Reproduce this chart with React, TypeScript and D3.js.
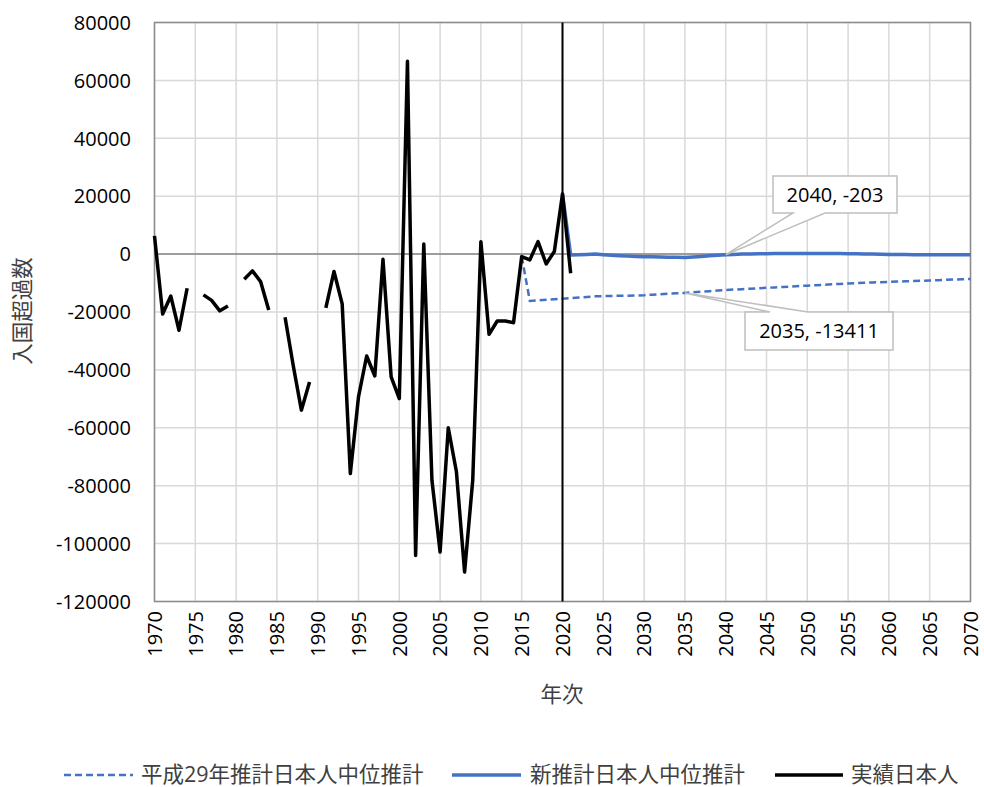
import React from "react";
import * as d3 from "d3";

const actualYears: number[] = d3.range(1970, 2022);
const actualValues: (number | null)[] = [
  6300, -20700, -14500, -26300, -11800, null, -14100, -16000, -19600, -17900,
  null, -8700, -5800, -9500, -19300, null, -21800, -38500, -53900, -44200,
  null, -18600, -6000, -17200, -75800, -49300, -35200, -42100, -1800, -42400,
  -49900, 66600, -104100, 3500, -78100, -102900, -60000, -75200, -109800, -78100,
  4300, -27700, -23100, -23100, -23700, -850, -2000, 4300, -3400, 900,
  20800, -6600,
];

const newYears: number[] = d3.range(2020, 2071);
const newValues: number[] = [
  20800, -300, -200, -100, 0, -200, -400, -550, -700, -800,
  -900, -950, -1000, -1050, -1100, -1150, -1000, -800, -600, -400,
  -203, -100, 0, 50, 100, 150, 200, 200, 250, 250,
  250, 250, 250, 200, 200, 150, 100, 50, 0, -50,
  -100, -150, -150, -200, -200, -200, -200, -250, -250, -250,
  -250,
];

const h29Years: number[] = d3.range(2015, 2071);
const h29Values: number[] = [
  -850, -16200, -16000, -15800, -15600, -15400, -15200, -15000, -14800, -14600,
  -14500, -14450, -14400, -14350, -14300, -14200, -14000, -13850, -13700, -13550,
  -13411, -13200, -13000, -12800, -12600, -12400, -12250, -12100, -11950, -11800,
  -11650, -11500, -11350, -11200, -11050, -10900, -10750, -10600, -10450, -10300,
  -10150, -10000, -9900, -9800, -9700, -9600, -9500, -9400, -9300, -9200,
  -9100, -9000, -8900, -8800, -8700, -8600,
];

const xTicks: number[] = d3.range(1970, 2071, 5);
const yTicks: number[] = d3.range(-120000, 80001, 20000);

const legendLabels = ["平成29年推計日本人中位推計", "新推計日本人中位推計", "実績日本人"];
const yTitle = "入国超過数";
const xTitle = "年次";

const FONT = "'Open Sans', 'Noto Sans CJK JP', sans-serif";
const BLUE = "#4472c4";

export default function App() {
  const x = d3.scaleLinear().domain([1970, 2070]).range([154.5, 970.5]);
  const y = d3.scaleLinear().domain([-120000, 80000]).range([601.5, 22.5]);

  const line = d3
    .line<[number, number | null]>()
    .defined((d) => d[1] !== null)
    .x((d) => x(d[0]))
    .y((d) => y(d[1] as number));

  const actualPath = line(actualYears.map((yr, i) => [yr, actualValues[i]]));
  const newPath = line(newYears.map((yr, i) => [yr, newValues[i]]));
  const h29Path = line(h29Years.map((yr, i) => [yr, h29Values[i]]));

  const p1x = x(2040), p1y = y(-203);
  const p2x = x(2035), p2y = y(-13411);

  return (
    <svg
      width={984}
      height={787}
      style={{ position: "absolute", left: 0, top: 0, background: "#fff" }}
      fontFamily={FONT}
    >
      <rect x={0} y={0} width={984} height={787} fill="#fff" />
      {yTicks.map((t) => (
        <line key={"gy" + t} x1={x(1970)} x2={x(2070)} y1={y(t)} y2={y(t)} stroke="#d9d9d9" strokeWidth={1.5} />
      ))}
      {xTicks.map((t) => (
        <line key={"gx" + t} x1={x(t)} x2={x(t)} y1={y(80000)} y2={y(-120000)} stroke="#d9d9d9" strokeWidth={1.5} />
      ))}
      <rect x={x(1970)} y={y(80000)} width={x(2070) - x(1970)} height={y(-120000) - y(80000)} fill="none" stroke="#8c8c8c" strokeWidth={1.5} />
      <line x1={x(1970)} x2={x(2070)} y1={y(0)} y2={y(0)} stroke="#868686" strokeWidth={1.5} />

      <path d={h29Path || ""} fill="none" stroke={BLUE} strokeWidth={2.5} strokeDasharray="7,4" />
      <path d={newPath || ""} fill="none" stroke={BLUE} strokeWidth={3.5} strokeLinejoin="round" />
      <path d={actualPath || ""} fill="none" stroke="#000" strokeWidth={3.5} strokeLinejoin="round" />
      <line x1={x(2020)} x2={x(2020)} y1={y(80000)} y2={y(-120000)} stroke="#000" strokeWidth={2} />

      {yTicks.map((t) => (
        <text key={"ty" + t} x={131} y={y(t)} dy="0.36em" textAnchor="end" fontSize={20} fill="#000">
          {t}
        </text>
      ))}
      {xTicks.map((t) => (
        <text
          key={"tx" + t}
          transform={`translate(${x(t)},${611}) rotate(-90)`}
          textAnchor="end"
          dy="0.36em"
          fontSize={20}
          fill="#000"
        >
          {t}
        </text>
      ))}

      <text transform={`translate(22,311) rotate(-90)`} textAnchor="middle" dy="0.36em" fontSize={21.5} fill="#404040">
        {yTitle}
      </text>
      <text x={562} y={694} textAnchor="middle" dy="0.36em" fontSize={21.5} fill="#404040">
        {xTitle}
      </text>

      <path
        d={`M${773},${176} H${897} V${213} H${825} L${p1x},${p1y} L${793},${213} H${773} Z`}
        fill="#fff"
        stroke="#bfbfbf"
        strokeWidth={1.5}
      />
      <text x={835} y={194.5} textAnchor="middle" dy="0.36em" fontSize={20} fill="#000">
        2040, -203
      </text>
      <path
        d={`M${745},${312} H${770} L${p2x},${p2y} L${808},${312} H${893} V${350} H${745} Z`}
        fill="#fff"
        stroke="#bfbfbf"
        strokeWidth={1.5}
      />
      <text x={819} y={331} textAnchor="middle" dy="0.36em" fontSize={20} fill="#000">
        2035, -13411
      </text>

      <line x1={64} x2={133} y1={775} y2={775} stroke={BLUE} strokeWidth={2.5} strokeDasharray="7,4" />
      <text x={141} y={774} dy="0.36em" fontSize={21.5} fill="#404040">{legendLabels[0]}</text>
      <line x1={452} x2={521} y1={775} y2={775} stroke={BLUE} strokeWidth={3.5} />
      <text x={530} y={774} dy="0.36em" fontSize={21.5} fill="#404040">{legendLabels[1]}</text>
      <line x1={775} x2={843} y1={775} y2={775} stroke="#000" strokeWidth={3.5} />
      <text x={851} y={774} dy="0.36em" fontSize={21.5} fill="#404040">{legendLabels[2]}</text>
    </svg>
  );
}
